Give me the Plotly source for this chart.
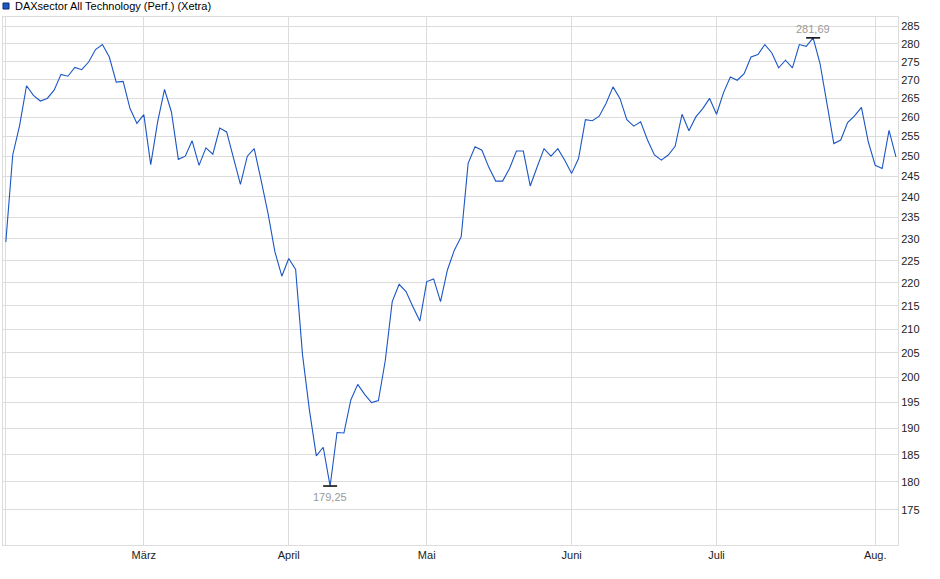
import pandas as pd
import numpy as np
import plotly.graph_objects as go

# ---- data ----
series_name = "DAXsector All Technology (Perf.) (Xetra)"
start_date = "2025-02-03"
end_date = "2025-08-06"
holidays = ["2025-04-18", "2025-04-21", "2025-05-01"]

values = [
    229.3, 250.3, 257.9, 268.4, 265.8, 264.3, 265.0, 267.2, 271.5, 271.0,
    273.4, 272.8, 274.9, 278.4, 279.8, 276.3, 269.4, 269.6, 262.3, 258.4,
    260.7, 247.9, 258.8, 267.4, 261.4, 249.2, 250.0, 253.9, 247.7, 252.1,
    250.5, 257.2, 256.2, 249.8, 243.0, 250.0, 251.9, 244.0, 236.0, 227.0,
    221.5, 225.5, 223.0, 204.6, 193.5, 184.8, 186.4, 179.25, 189.2, 189.1,
    195.5, 198.6, 196.6, 195.0, 195.4, 203.5, 215.9, 219.7, 218.1, 214.8,
    211.7, 220.3, 220.9, 215.9, 222.9, 227.4, 230.5, 248.2, 252.4, 251.5,
    247.2, 243.8, 243.8, 246.9, 251.3, 251.3, 242.6, 247.3, 251.9, 250.0,
    251.9, 249.0, 245.7, 249.4, 259.4, 259.1, 260.3, 263.7, 268.1, 265.0,
    259.4, 257.7, 258.8, 254.1, 250.3, 249.0, 250.3, 252.5, 260.8, 256.5,
    260.1, 262.3, 265.0, 260.8, 266.5, 270.8, 269.9, 271.7, 276.3, 277.0,
    279.8, 277.5, 273.3, 275.4, 273.3, 279.8, 279.3, 281.69, 274.5, 263.7,
    253.2, 254.1, 258.6, 260.4, 262.6, 253.6, 247.7, 246.9, 256.6, 249.8,
]

month_tick_dates = ["2025-02-03", "2025-03-03", "2025-04-01", "2025-05-02",
                    "2025-06-02", "2025-07-01", "2025-08-01"]
month_tick_labels = ["", "März", "April", "Mai", "Juni", "Juli", "Aug."]

y_tick_values = list(range(175, 290, 5))
y_tick_labels = [str(v) for v in y_tick_values]

# ---- build ----
days = pd.bdate_range(start_date, end_date)
days = [d.strftime("%Y-%m-%d") for d in days if d.strftime("%Y-%m-%d") not in holidays]

LINE = "#1c56c4"
GRID = "#dcdcdc"
FONT = "Liberation Sans, Arial, sans-serif"

fig = go.Figure()
fig.add_trace(go.Scatter(
    x=days, y=values, mode="lines",
    line=dict(color=LINE, width=1.1),
    showlegend=False, hoverinfo="x+y",
))

i_min = int(np.argmin(values))
i_max = int(np.argmax(values))
fmt = lambda v: f"{v:.2f}".replace(".", ",")
fig.add_trace(go.Scatter(
    x=[days[i_min], days[i_max]], y=[values[i_min], values[i_max]], mode="markers",
    marker=dict(symbol="line-ew", size=10, line=dict(color="#000000", width=1.5)),
    showlegend=False, hoverinfo="skip",
))

ext_annotations = [
    dict(x=days[i_min], y=np.log10(values[i_min]), xref="x", yref="y",
         text=fmt(values[i_min]), showarrow=False, yanchor="middle", yshift=-11,
         font=dict(color="#9a9a9a", size=11, family=FONT)),
    dict(x=days[i_max], y=np.log10(values[i_max]), xref="x", yref="y",
         text=fmt(values[i_max]), showarrow=False, yanchor="middle", yshift=9,
         font=dict(color="#9a9a9a", size=11, family=FONT)),
]

fig.update_layout(
    width=940, height=579,
    margin=dict(l=3, r=42, t=17, b=34, autoexpand=False),
    paper_bgcolor="white", plot_bgcolor="white",
    font=dict(family=FONT, size=11, color="#222222"),
    showlegend=False,
    xaxis=dict(
        type="category",
        range=[-0.41, 129.3],
        tickmode="array", tickvals=month_tick_dates, ticktext=month_tick_labels,
        showgrid=True, gridcolor=GRID, gridwidth=1,
        showline=True, linecolor=GRID, linewidth=1, mirror=True,
        ticks="", tickfont=dict(size=11, color="#222222"),
        zeroline=False,
    ),
    yaxis=dict(
        type="log", side="right",
        range=[np.log10(168.9), np.log10(287.68)],
        tickmode="array", tickvals=y_tick_values, ticktext=y_tick_labels,
        showgrid=True, gridcolor=GRID, gridwidth=1,
        showline=True, linecolor=GRID, linewidth=1, mirror=True,
        ticks="", tickfont=dict(size=11, color="#222222"),
        zeroline=False,
    ),
    shapes=[dict(
        type="rect", xref="paper", yref="paper",
        xsizemode="pixel", ysizemode="pixel", xanchor=0, yanchor=1,
        x0=0, x1=6, y0=8, y1=14,
        fillcolor="#1c56c4", line=dict(color="#0a2a6e", width=1),
    )],
    annotations=[dict(
        text=series_name, xref="paper", yref="paper", x=0, y=1,
        xanchor="left", yanchor="middle", xshift=10, yshift=11,
        showarrow=False, font=dict(size=11, color="#000000", family=FONT),
    )] + ext_annotations,
)

fig.write_html(
    "out.html",
    config={"displayModeBar": False},
    post_script="document.body.style.margin='0';document.body.style.padding='0';",
)
